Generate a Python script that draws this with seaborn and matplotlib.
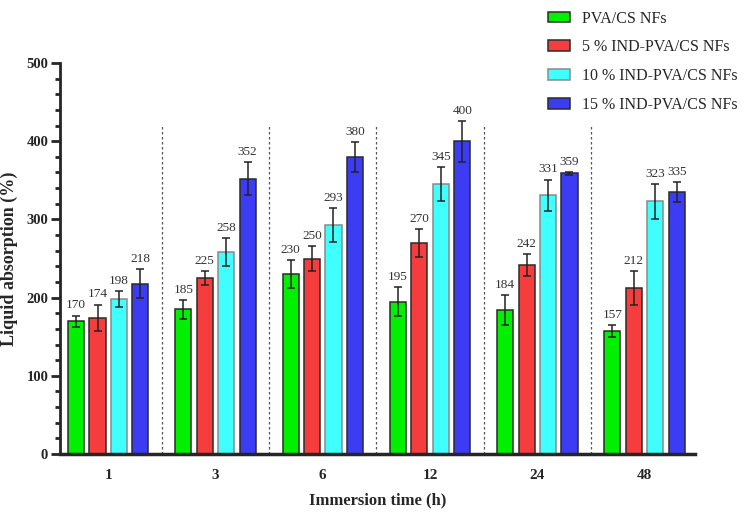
import numpy as np
import pandas as pd
import matplotlib
matplotlib.use("Agg")
import matplotlib.pyplot as plt
from matplotlib.ticker import MultipleLocator
import seaborn as sns

# Data
times = ["1", "3", "6", "12", "24", "48"]
groups = ["PVA/CS NFs", "5 % IND-PVA/CS NFs", "10 % IND-PVA/CS NFs", "15 % IND-PVA/CS NFs"]
pva_cs = [170, 185, 230, 195, 184, 157]
ind5 = [174, 225, 250, 270, 242, 212]
ind10 = [198, 258, 293, 345, 331, 323]
ind15 = [218, 352, 380, 400, 359, 335]
err_pva_cs = [7, 12, 17.5, 19, 19, 7.5]
err_ind5 = [17, 9, 16, 18, 14, 22]
err_ind10 = [10, 18, 22, 22, 20, 22]
err_ind15 = [19, 21, 19, 26, 2, 13]

colors = ["#00f000", "#f53d3d", "#40ffff", "#3c3cf5"]
edges = ["#2b2b2b", "#2b2b2b", "#8a8a8a", "#2b2b2b"]

values = [pva_cs, ind5, ind10, ind15]
errors = [err_pva_cs, err_ind5, err_ind10, err_ind15]

rows = []
for g, vals in zip(groups, values):
    for t, v in zip(times, vals):
        rows.append({"time": t, "group": g, "value": v})
df = pd.DataFrame(rows)

sns.set_theme(style="ticks")
plt.rcParams["font.family"] = ["Liberation Serif", "DejaVu Serif"]

fig = plt.figure(figsize=(7.44, 5.14), dpi=100)
ax = fig.add_axes([0.0806, 0.1167, 0.8535, 0.7607])

sns.barplot(data=df, x="time", y="value", hue="group", order=times, hue_order=groups,
            palette=colors, width=0.8, gap=0.25, errorbar=None, linewidth=1.1,
            saturation=1, ax=ax, legend=True)

# edges, error bars and value labels
bar_conts = list(ax.containers)
for i, cont in enumerate(bar_conts):
    for j, p in enumerate(cont.patches):
        p.set_edgecolor(edges[i])
        xc = p.get_x() + p.get_width() / 2
        h = p.get_height()
        e = errors[i][j]
        ax.errorbar(xc, h, yerr=e, color="#222222", capsize=2.8, elinewidth=1.1,
                    capthick=1.1, zorder=5)
        ax.annotate(f"{values[i][j]}", (xc, h + e), xytext=(0, 3),
                    textcoords="offset points", ha="center", va="bottom",
                    fontsize=9.5, color="#333333")

# dotted separators between groups
for k in range(len(times) - 1):
    ax.vlines(k + 0.5, 0, 420, colors="#555555", linestyles=(0, (2, 2)), linewidth=0.9)

ax.set_xlim(-0.45, 5.47)
ax.set_ylim(0, 500)
ax.yaxis.set_major_locator(MultipleLocator(100))
ax.yaxis.set_minor_locator(MultipleLocator(20))
ax.tick_params(axis="y", which="major", length=6.5, width=2, labelsize=10.5, pad=2)
ax.tick_params(axis="y", which="minor", length=3.5, width=2)
ax.tick_params(axis="x", length=0, labelsize=11, pad=11)
for lab in ax.get_xticklabels() + ax.get_yticklabels():
    lab.set_fontweight("bold")

sns.despine(ax=ax)
ax.spines["left"].set_linewidth(2)
ax.spines["bottom"].set_linewidth(2.5)

ax.set_xlabel("Immersion time (h)", fontsize=12, fontweight="bold", labelpad=7)
ax.set_ylabel("Liquid absorption (%)", fontsize=13, fontweight="bold", labelpad=6)

handles, labels = ax.get_legend_handles_labels()
ax.get_legend().remove()
for h, ec in zip(handles, edges):
    h.set_edgecolor(ec)
fig.legend(handles, labels, loc="upper left", bbox_to_anchor=(0.726, 0.995),
           frameon=False, fontsize=11.5, borderpad=0, handlelength=1.4,
           handleheight=0.65, handletextpad=0.75, labelspacing=0.8)

fig.savefig("out.png", dpi=100)
